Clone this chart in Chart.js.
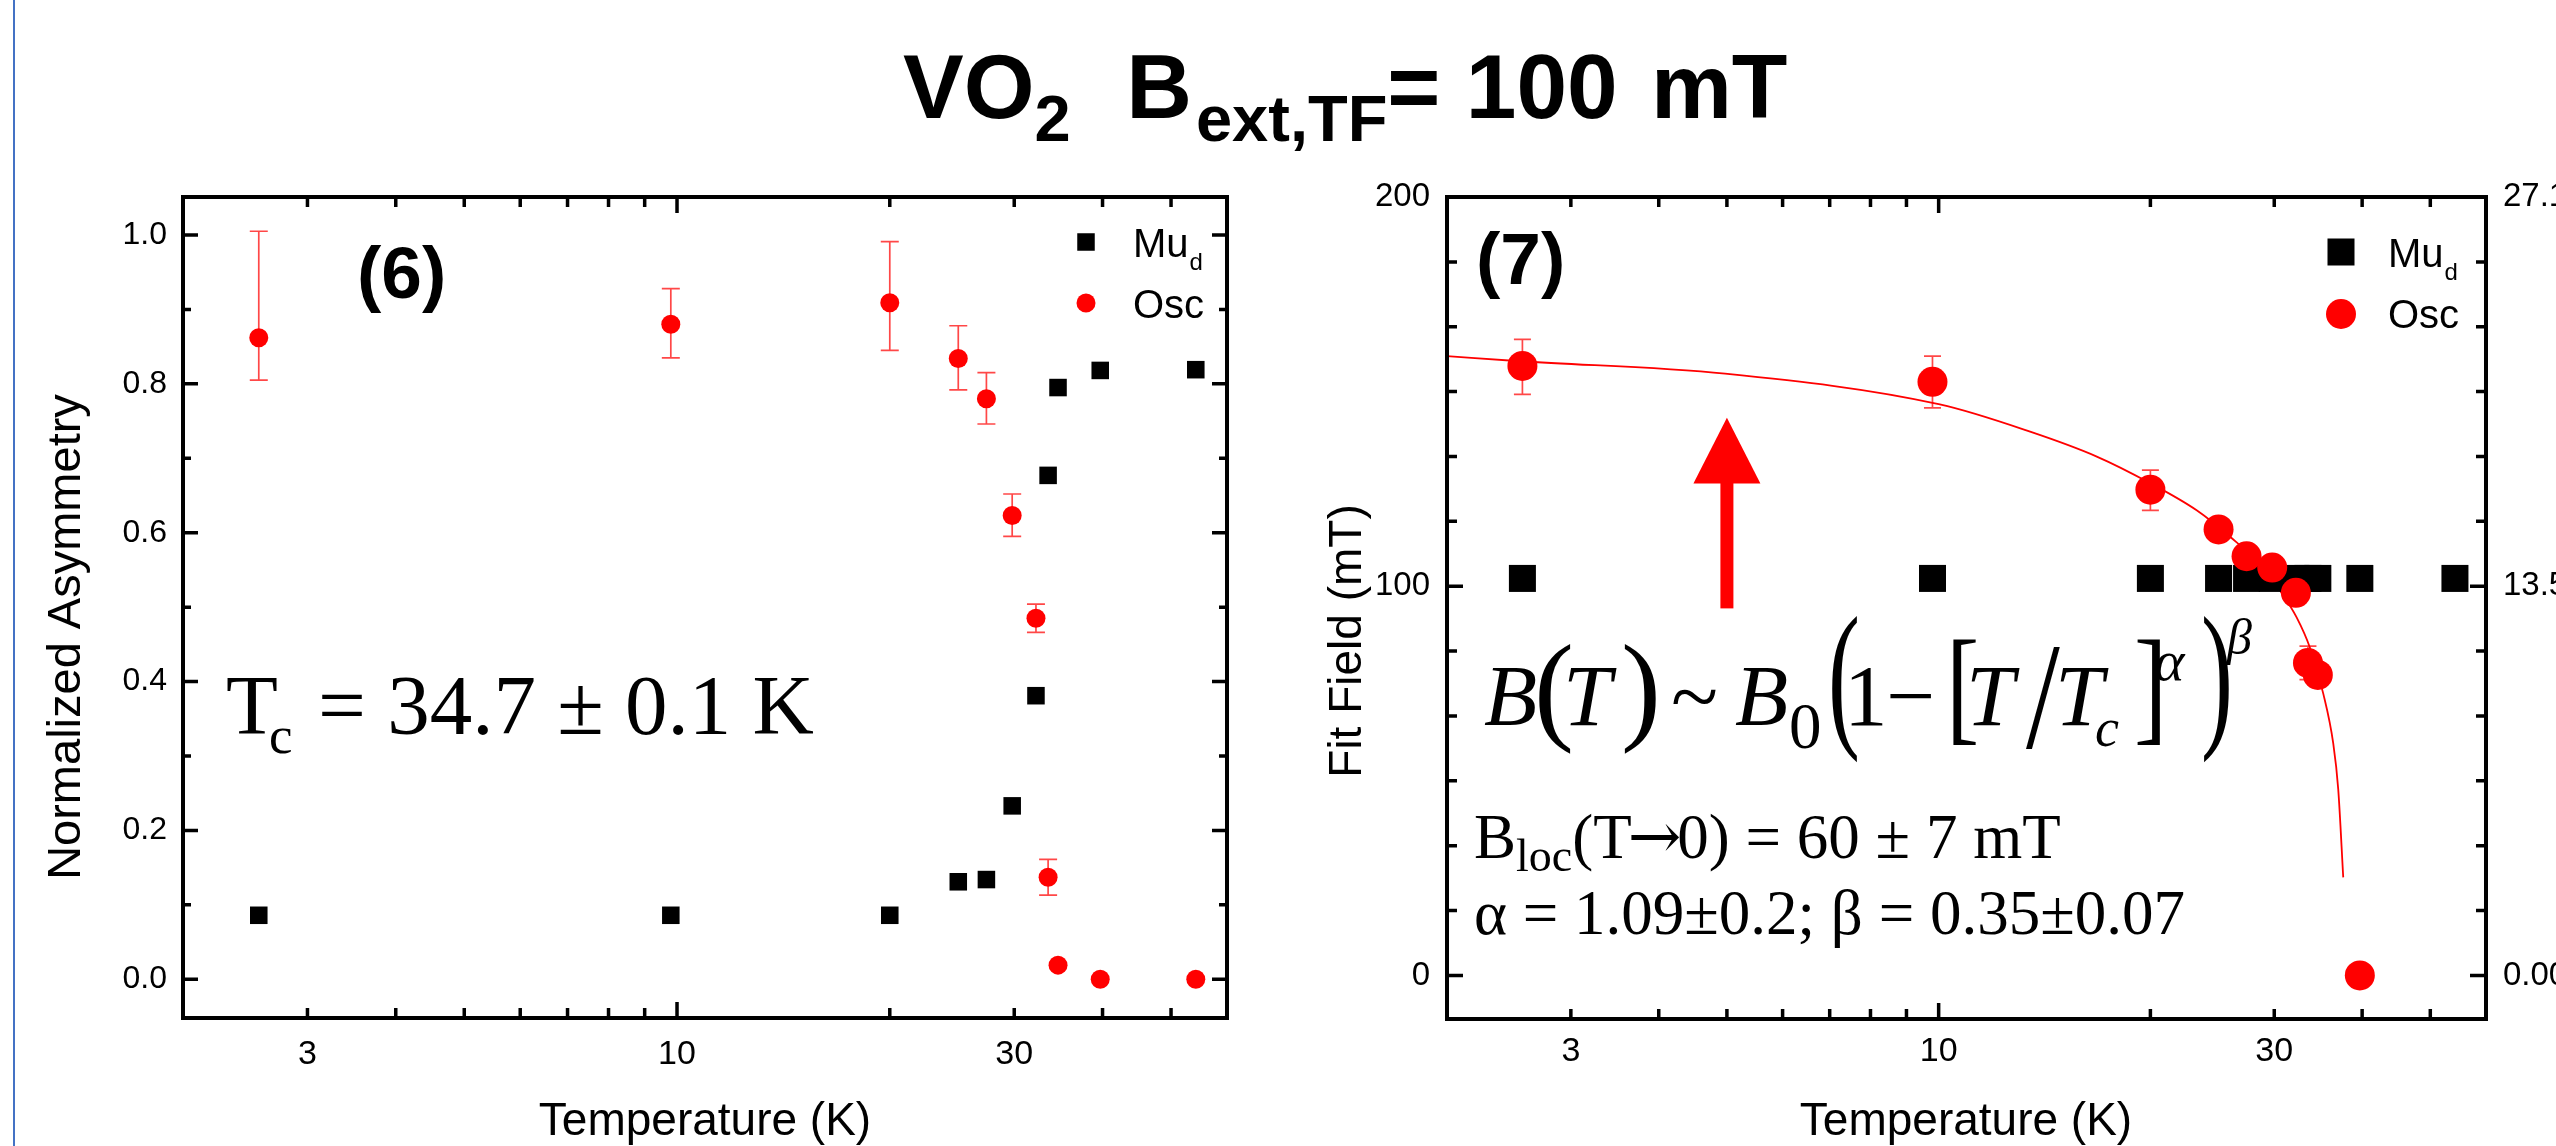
<!DOCTYPE html>
<html>
<head>
<meta charset="utf-8">
<title>VO2 B_ext,TF = 100 mT</title>
<script src="https://cdn.jsdelivr.net/npm/chart.js@4.4.1/dist/chart.umd.min.js"></script>
<style>
  html, body { margin:0; padding:0; background:#fff; }
  body { width:2556px; height:1146px; overflow:hidden; position:relative; }
  #edge { position:absolute; left:13px; top:0; width:2px; height:1146px; background:#4472c4; }
  #title { position:absolute; left:903px; top:41px; font-family:"Liberation Sans", Arial, sans-serif; font-weight:bold; font-size:91px; line-height:1; white-space:pre; color:#000; }
  #title .sub { font-size:65px; position:relative; top:23px; }
  #wrapL { position:absolute; left:0; top:0; width:1280px; height:1146px; }
  #wrapR { position:absolute; left:1290px; top:0; width:1266px; height:1146px; }
</style>
</head>
<body>
<div id="edge"></div>
<div id="title">VO<span class="sub">2</span>  <span style="margin-left:5px">B</span><span class="sub" style="margin-left:4px">ext,TF</span>= 100 <span style="margin-left:8px">mT</span></div>
<div id="wrapL"><canvas id="chartL" width="1280" height="1146"></canvas></div>
<div id="wrapR"><canvas id="chartR" width="1266" height="1146"></canvas></div>
<script>
// ---------------- data ----------------
const temperatureK = [2.56, 9.8, 20.0, 25.0, 27.4, 29.8, 32.2, 33.5, 34.6, 39.7, 54.2];
// panel (6): normalized asymmetry
const asymMud     = [0.086, 0.086, 0.086, 0.131, 0.134, 0.233, 0.381, 0.677, 0.795, 0.818, 0.819];
const asymOsc     = [0.862, 0.880, 0.909, 0.834, 0.780, 0.623, 0.485, 0.137, 0.019, 0.000, 0.000];
const asymOscLow  = [0.805, 0.835, 0.845, 0.792, 0.746, 0.595, 0.466, 0.113, 0.019, 0.000, 0.000];
const asymOscHigh = [1.005, 0.928, 0.991, 0.878, 0.815, 0.652, 0.504, 0.161, 0.019, 0.000, 0.000];
// panel (7): fit field (mT)
const fieldMud     = [102, 102, 102, 102, 102, 102, 102, 102, 102, 102, 102];
const fieldOscT    = [2.56, 9.8, 20.0, 25.0, 27.4, 29.8, 32.2, 33.5, 34.6, 39.7];
const fieldOsc     = [156.6, 152.5, 124.8, 114.6, 107.7, 104.8, 98.3, 80.3, 77.2, 0.0];
const fieldOscLow  = [149.3, 145.8, 119.5, 114.6, 107.7, 102.2, 98.3, 76.0, 77.2, 0.0];
const fieldOscHigh = [163.4, 159.1, 129.8, 114.6, 107.7, 107.4, 98.3, 84.6, 77.2, 0.0];
// fitted curve
const fitT     = [2.0, 2.54, 4.97, 10.04, 13.49, 16.78, 19.97, 23.27, 25.96, 28.94, 30.57, 32.28, 33.72, 35.22, 36.39, 36.99, 37.6];
const fitField = [159.1, 157.8, 154.6, 146.7, 139.7, 133.3, 126.5, 119.5, 112.7, 104.8, 98.9, 92.0, 84.2, 72.4, 59.6, 47.8, 25.2];
// arrow annotation (data units)
const arrowT = 5.0, arrowTip = 143.3, arrowHeadBase = 126.4, arrowTail = 94.3;

// ticks
const xLabelValues = [3, 10, 30];
const xLabelTexts  = ['3', '10', '30'];
const xMajorTicks  = [10];
const xMinorTicks  = [3, 4, 5, 6, 7, 8, 9, 20, 30, 40, 50];
const asymTickValues = [0, 0.2, 0.4, 0.6, 0.8, 1.0];
const asymTickLabels = ['0.0', '0.2', '0.4', '0.6', '0.8', '1.0'];
const asymMinorTicks = [0.1, 0.3, 0.5, 0.7, 0.9];
const fieldTickValues = [0, 100, 200];
const fieldTickLabels = ['0', '100', '200'];
const fieldMinorTicks = [16.67, 33.33, 50, 66.67, 83.33, 116.67, 133.33, 150, 166.67, 183.33];
const freqTickValues = [0, 13.55, 27.1];
const freqTickLabels = ['0.00', '13.55', '27.10'];

// ---------------- helpers ----------------
const sans = "'Liberation Sans', Arial, Helvetica, sans-serif";
const serif = "'Liberation Serif', 'Times New Roman', serif";
const pts = (xs, ys) => ys.map((y, i) => ({ x: xs[i], y }));

function txt(ctx, s, x, y, font, opt) {
  opt = opt || {};
  ctx.save();
  ctx.font = font;
  ctx.fillStyle = opt.color || '#000';
  ctx.textAlign = opt.align || 'left';
  ctx.textBaseline = 'alphabetic';
  ctx.translate(x, y);
  if (opt.rot) ctx.rotate(opt.rot);
  if (opt.sx) ctx.scale(opt.sx, 1);
  ctx.fillText(s, 0, 0);
  const w = ctx.measureText(s).width * (opt.sx || 1);
  ctx.restore();
  return w;
}
function run(ctx, x, y, parts) {
  for (const p of parts) x += txt(ctx, p.t, x + (p.dx || 0), y + (p.dy || 0), p.f) + (p.dx || 0) + (p.after || 0);
  return x;
}
function drawErrorBars(chart, xs, lows, highs, capW, color, lw) {
  const ctx = chart.ctx, sx = chart.scales.x, sy = chart.scales.y;
  ctx.save();
  ctx.strokeStyle = color; ctx.lineWidth = lw;
  ctx.beginPath();
  for (let i = 0; i < xs.length; i++) {
    if (!(highs[i] - lows[i] > 0)) continue;
    const px = sx.getPixelForValue(xs[i]);
    const pl = sy.getPixelForValue(lows[i]);
    const ph = sy.getPixelForValue(highs[i]);
    ctx.moveTo(px, pl); ctx.lineTo(px, ph);
    ctx.moveTo(px - capW / 2, ph); ctx.lineTo(px + capW / 2, ph);
    ctx.moveTo(px - capW / 2, pl); ctx.lineTo(px + capW / 2, pl);
  }
  ctx.stroke();
  ctx.restore();
}
function drawFrame(chart, c) {
  const ctx = chart.ctx, a = chart.chartArea, sx = chart.scales.x, sy = chart.scales.y;
  ctx.save();
  ctx.strokeStyle = '#000';
  ctx.lineWidth = c.tickW;
  ctx.beginPath();
  const yT = (vals, len) => vals.forEach(v => {
    const p = sy.getPixelForValue(v);
    ctx.moveTo(a.left, p); ctx.lineTo(a.left + len, p);
    ctx.moveTo(a.right, p); ctx.lineTo(a.right - len, p);
  });
  const xT = (vals, len) => vals.forEach(v => {
    const p = sx.getPixelForValue(v);
    ctx.moveTo(p, a.bottom); ctx.lineTo(p, a.bottom - len);
    ctx.moveTo(p, a.top); ctx.lineTo(p, a.top + len);
  });
  yT(c.yMajor, c.yMajLen); yT(c.yMinor, c.yMinLen);
  xT(xMajorTicks, c.xMajLen); xT(xMinorTicks, c.xMinLen);
  ctx.stroke();
  ctx.lineWidth = c.frameW;
  ctx.strokeRect(a.left, a.top, a.right - a.left, a.bottom - a.top);
  ctx.restore();
}
function legend(ctx, x0, yMu, yOsc, sq, r, font, subFont, sqY, circY, textX) {
  ctx.save();
  ctx.fillStyle = '#000';
  ctx.fillRect(x0 - sq / 2, sqY - sq / 2, sq, sq);
  ctx.fillStyle = '#ff0000';
  ctx.beginPath(); ctx.arc(x0, circY, r, 0, Math.PI * 2); ctx.fill();
  ctx.restore();
  const w = txt(ctx, 'Mu', textX, yMu, font);
  txt(ctx, 'd', textX + w + 1, yMu + 13, subFont);
  txt(ctx, 'Osc', textX, yOsc, font);
}
function xAxis(height, pad) {
  return {
    type: 'logarithmic', position: 'bottom', min: 2, max: 60,
    grid: { display: false, drawTicks: false, tickLength: 0 },
    border: { display: false },
    afterBuildTicks: s => { s.ticks = xLabelValues.map(v => ({ value: v })); },
    ticks: {
      autoSkip: false, maxRotation: 0, minRotation: 0, padding: pad, color: '#000',
      font: { family: sans, size: 34, lineHeight: 1 },
      callback: v => { const i = xLabelValues.indexOf(v); return i < 0 ? '' : xLabelTexts[i]; }
    },
    afterFit: s => { s.height = height; }
  };
}

// ---------------- left chart: panel (6) ----------------
const leftDeco = {
  id: 'leftDeco',
  beforeDatasetsDraw(chart) {
    drawErrorBars(chart, temperatureK, asymOscLow, asymOscHigh, 18, 'rgba(255,0,0,0.72)', 1.7);
  },
  afterDraw(chart) {
    const ctx = chart.ctx;
    drawFrame(chart, { yMajor: asymTickValues, yMinor: asymMinorTicks, yMajLen: 15, yMinLen: 8,
                       xMajLen: 16, xMinLen: 10, tickW: 3.5, frameW: 4 });
    // panel label
    txt(ctx, '(6)', 357, 298, 'bold 73px ' + sans);
    // Tc text
    txt(ctx, 'T', 226, 734, '85px ' + serif);
    txt(ctx, 'c', 269, 753, '53px ' + serif);
    txt(ctx, '= 34.7 \u00b1 0.1 K', 318, 734, '85px ' + serif);
    // legend
    legend(ctx, 1086, 257, 318, 17.5, 9.5, '40px ' + sans, '24px ' + sans, 242, 303, 1133);
    // axis titles
    txt(ctx, 'Normalized Asymmetry', 80, 637, '47px ' + sans, { align: 'center', rot: -Math.PI / 2 });
    txt(ctx, 'Temperature (K)', 705, 1135, '46px ' + sans, { align: 'center' });
  }
};

new Chart(document.getElementById('chartL'), {
  type: 'scatter',
  data: {
    datasets: [
      { label: 'Osc', data: pts(temperatureK, asymOsc), pointStyle: 'circle', pointRadius: 9.5,
        pointBackgroundColor: '#ff0000', pointBorderColor: '#ff0000', pointBorderWidth: 0, showLine: false, order: 1 },
      { label: 'Mu_d', data: pts(temperatureK, asymMud), pointStyle: 'rect', pointRadius: 12.4,
        pointBackgroundColor: '#000', pointBorderColor: '#000', pointBorderWidth: 0, showLine: false, order: 2 }
    ]
  },
  options: {
    responsive: false, animation: false, devicePixelRatio: 1, events: [],
    layout: { padding: { left: 0, right: 53, top: 197, bottom: 0 } },
    plugins: { legend: { display: false }, tooltip: { enabled: false } },
    scales: {
      x: xAxis(128, 20),
      y: {
        type: 'linear', position: 'left', min: -0.052, max: 1.051,
        grid: { display: false, drawTicks: false, tickLength: 0 }, border: { display: false },
        afterBuildTicks: s => { s.ticks = asymTickValues.map(v => ({ value: v })); },
        ticks: { padding: 16, color: '#000', font: { family: sans, size: 32, lineHeight: 1 },
                 callback: (v, i) => asymTickLabels[i] },
        afterFit: s => { s.width = 183; }
      }
    }
  },
  plugins: [leftDeco]
});

// ---------------- right chart: panel (7) ----------------
const OX = 1290; // canvas offset on the page
const rightDeco = {
  id: 'rightDeco',
  beforeDatasetsDraw(chart) {
    drawErrorBars(chart, fieldOscT, fieldOscLow, fieldOscHigh, 17, 'rgba(255,0,0,0.72)', 1.7);
  },
  afterDraw(chart) {
    const ctx = chart.ctx, sx = chart.scales.x, sy = chart.scales.y;
    drawFrame(chart, { yMajor: fieldTickValues, yMinor: fieldMinorTicks, yMajLen: 16, yMinLen: 10,
                       xMajLen: 16, xMinLen: 10, tickW: 3.5, frameW: 4 });
    // arrow
    const ax = sx.getPixelForValue(arrowT);
    const yTip = sy.getPixelForValue(arrowTip), yBase = sy.getPixelForValue(arrowHeadBase), yTail = sy.getPixelForValue(arrowTail);
    ctx.save();
    ctx.fillStyle = '#ff0000';
    ctx.fillRect(ax - 6.5, yBase - 1, 13, yTail - yBase + 1);
    ctx.beginPath(); ctx.moveTo(ax, yTip); ctx.lineTo(ax + 33.5, yBase); ctx.lineTo(ax - 33.5, yBase); ctx.closePath(); ctx.fill();
    ctx.restore();
    // panel label
    txt(ctx, '(7)', 1476 - OX, 284, 'bold 73px ' + sans);
    // formula  B(T) ~ B0(1 - [T/Tc]^a)^b
    const it = 'italic 87px ' + serif, up = '87px ' + serif;
    txt(ctx, 'B', 1484 - OX, 725, it);
    txt(ctx, '(', 1534 - OX, 728, '120px ' + serif);
    txt(ctx, 'T', 1563 - OX, 725, it);
    txt(ctx, ')', 1621 - OX, 728, '120px ' + serif);
    txt(ctx, '~', 1671 - OX, 725, up);
    txt(ctx, 'B', 1735 - OX, 725, it);
    txt(ctx, '0', 1789 - OX, 748, '65px ' + serif);
    txt(ctx, '(', 1828 - OX, 728, '160px ' + serif, { sx: 0.6 });
    txt(ctx, '1', 1844 - OX, 725, up);
    txt(ctx, '\u2212', 1886 - OX, 725, up);
    txt(ctx, '[', 1946 - OX, 728, '128px ' + serif, { sx: 0.78 });
    txt(ctx, 'T', 1966 - OX, 725, it);
    txt(ctx, '/', 2026 - OX, 748, '152px ' + serif, { sx: 0.8 });
    txt(ctx, 'T', 2055 - OX, 725, it);
    txt(ctx, 'c', 2095 - OX, 746, 'italic 54px ' + serif);
    txt(ctx, ']', 2134 - OX, 728, '128px ' + serif, { sx: 0.78 });
    txt(ctx, '\u03b1', 2154 - OX, 680, 'italic 58px ' + serif);
    txt(ctx, ')', 2201 - OX, 728, '160px ' + serif, { sx: 0.6 });
    txt(ctx, '\u03b2', 2227 - OX, 654, 'italic 50px ' + serif);
    // fit results
    run(ctx, 1474 - OX, 858, [
      { t: 'B', f: '63px ' + serif },
      { t: 'loc', f: '46px ' + serif, dy: 13 },
      { t: '(T', f: '63px ' + serif },
      { t: '\u2192', f: "64px 'DejaVu Serif', " + serif, dx: -4, after: -4 },
      { t: '0) = 60 \u00b1 7 mT', f: '63px ' + serif }
    ]);
    txt(ctx, '\u03b1 = 1.09\u00b10.2; \u03b2 = 0.35\u00b10.07', 1474 - OX, 934, '63px ' + serif);
    // legend
    legend(ctx, 2341 - OX, 267, 328, 27, 15, '40px ' + sans, '24px ' + sans, 252, 314, 2388 - OX);
    // axis titles
    txt(ctx, 'Fit Field (mT)', 1361 - OX, 641, '46px ' + sans, { align: 'center', rot: -Math.PI / 2 });
    txt(ctx, 'Temperature (K)', 1966 - OX, 1135, '46px ' + sans, { align: 'center' });
  }
};

new Chart(document.getElementById('chartR'), {
  type: 'scatter',
  data: {
    datasets: [
      { label: 'Osc', data: pts(fieldOscT, fieldOsc), pointStyle: 'circle', pointRadius: 15,
        pointBackgroundColor: '#ff0000', pointBorderColor: '#ff0000', pointBorderWidth: 0, showLine: false, order: 1 },
      { label: 'Mu_d', data: pts(temperatureK, fieldMud), pointStyle: 'rect', pointRadius: 19.1,
        pointBackgroundColor: '#000', pointBorderColor: '#000', pointBorderWidth: 0, showLine: false, order: 2 },
      { label: 'fit', data: pts(fitT, fitField), showLine: true, pointRadius: 0, borderColor: '#ff0000',
        borderWidth: 1.8, cubicInterpolationMode: 'monotone', fill: false, order: 3 }
    ]
  },
  options: {
    responsive: false, animation: false, devicePixelRatio: 1, events: [],
    layout: { padding: { left: 0, right: 0, top: 197, bottom: 0 } },
    plugins: { legend: { display: false }, tooltip: { enabled: false } },
    scales: {
      x: xAxis(127, 16),
      y: {
        type: 'linear', position: 'left', min: -11.2, max: 200,
        grid: { display: false, drawTicks: false, tickLength: 0 }, border: { display: false },
        afterBuildTicks: s => { s.ticks = fieldTickValues.map(v => ({ value: v })); },
        ticks: { padding: 17, color: '#000', font: { family: sans, size: 33, lineHeight: 1 },
                 callback: (v, i) => fieldTickLabels[i] },
        afterFit: s => { s.width = 157; }
      },
      y2: {
        type: 'linear', position: 'right', display: true, min: -11.2 * 0.1355, max: 27.1,
        grid: { display: false, drawTicks: false, tickLength: 0 }, border: { display: false },
        afterBuildTicks: s => { s.ticks = freqTickValues.map(v => ({ value: v })); },
        ticks: { padding: 17, color: '#000', font: { family: sans, size: 33, lineHeight: 1 },
                 callback: (v, i) => freqTickLabels[i] },
        afterFit: s => { s.width = 70; }
      }
    }
  },
  plugins: [rightDeco]
});
</script>
</body>
</html>
